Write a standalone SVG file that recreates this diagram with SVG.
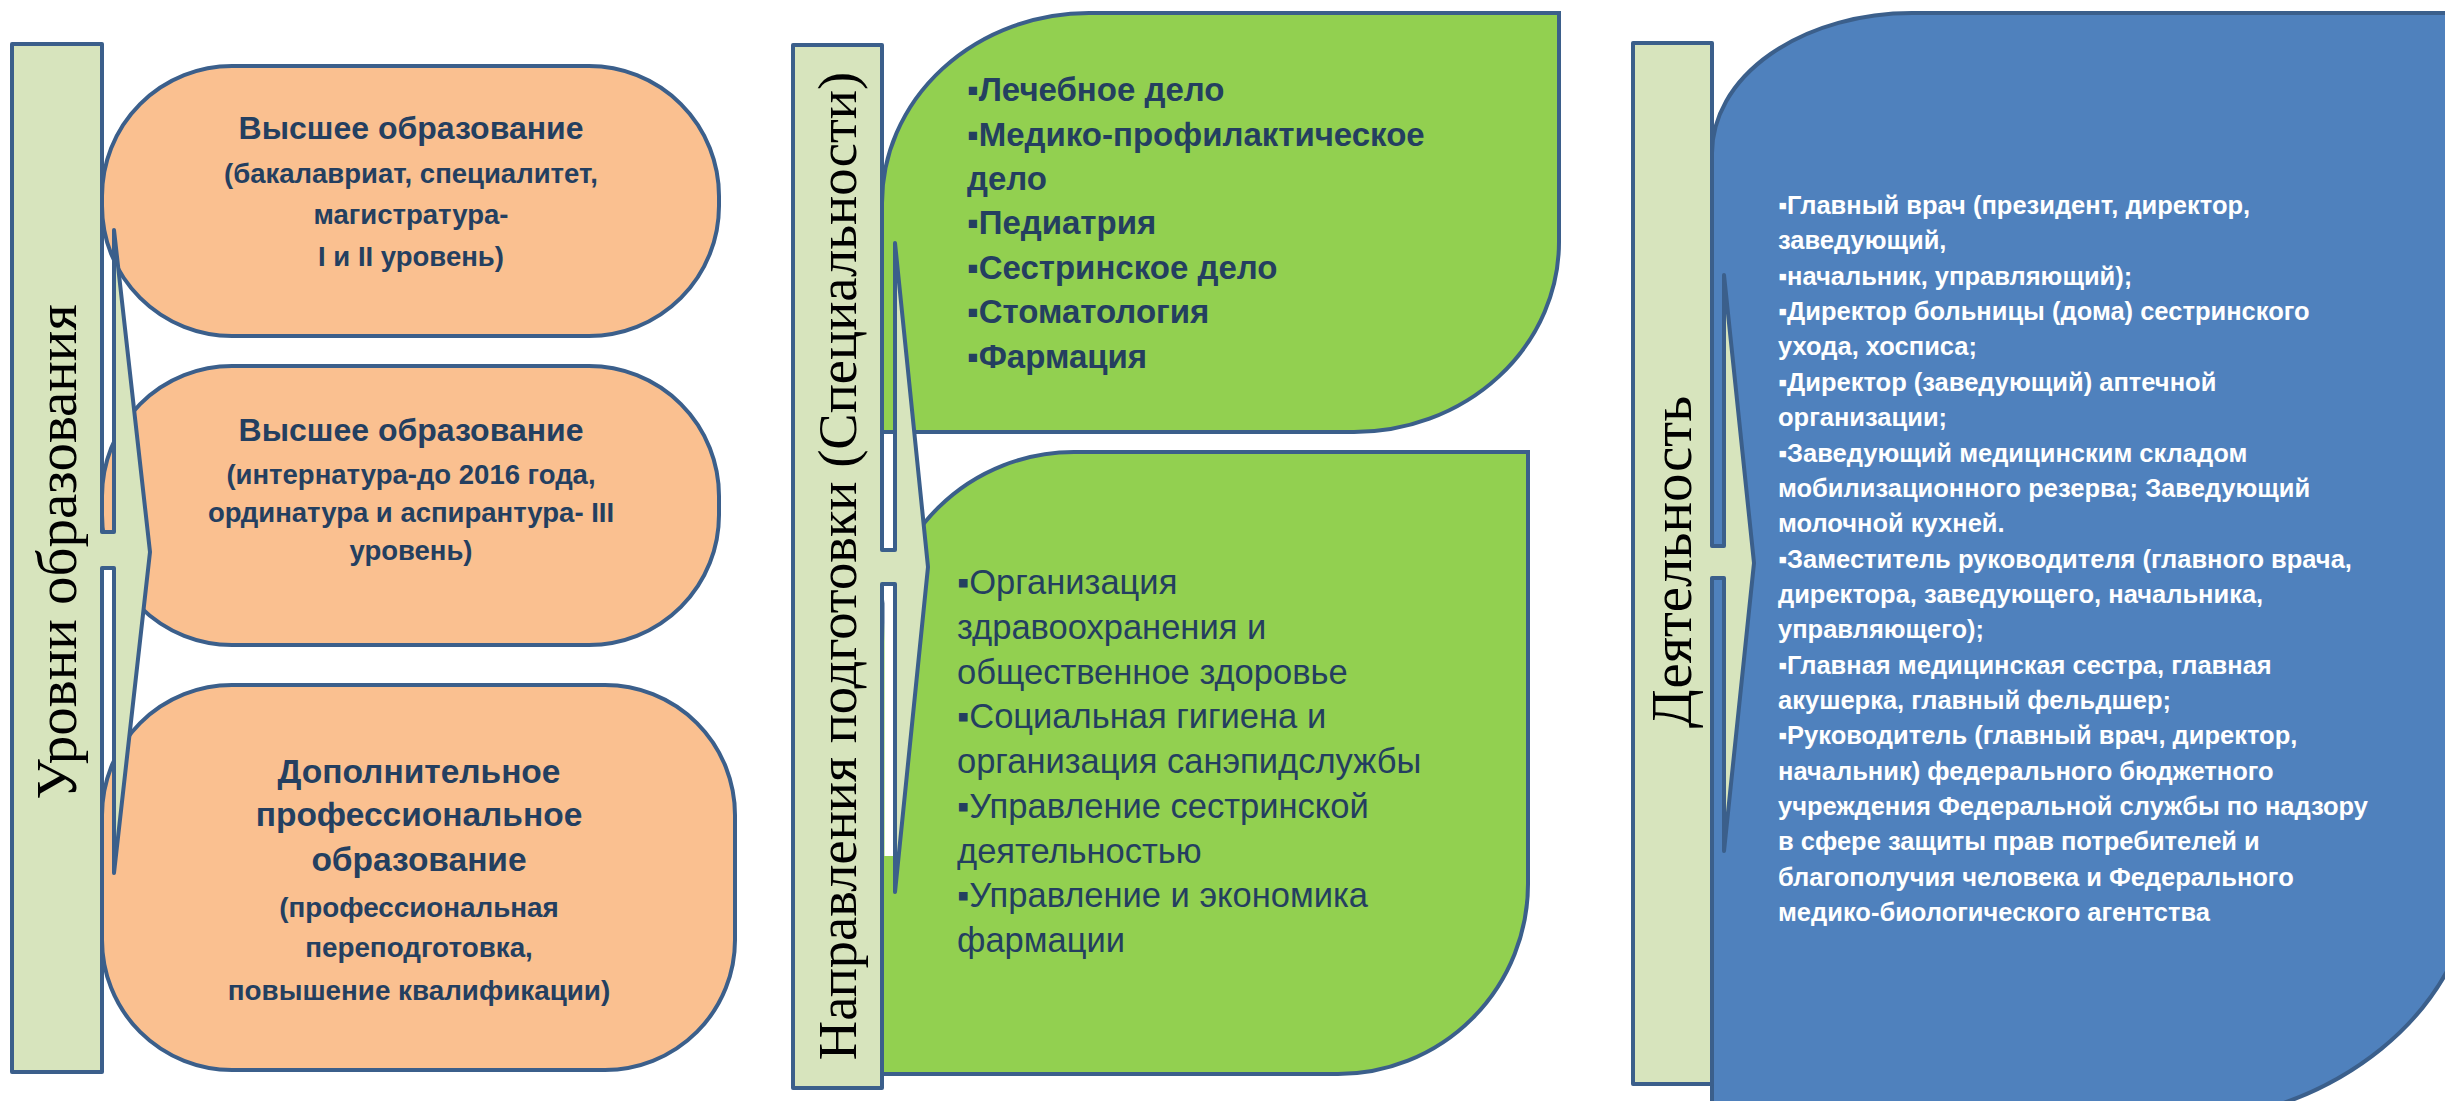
<svg xmlns="http://www.w3.org/2000/svg" width="2445" height="1101" viewBox="0 0 2445 1101">
<style>
.bar{fill:#d7e4bd;stroke:#3b5f8b;stroke-width:4;stroke-linejoin:round}
.box{fill:#fac090;stroke:#3b5f8b;stroke-width:4}
.grn{fill:#92d050;stroke:#3b5f8b;stroke-width:4}
.blu{fill:#4f81bd;stroke:#3b5f8b;stroke-width:4}
.wfill{fill:#d7e4bd;stroke:none}
.wline{fill:none;stroke:#3b5f8b;stroke-width:4;stroke-linejoin:round;stroke-linecap:round}
.vt{font-family:"Liberation Serif","Times New Roman",serif;fill:#000}
.t{font-family:"Liberation Sans",Arial,sans-serif;fill:#243f60}
.c{text-anchor:middle}
.b{font-weight:bold}
.w{fill:#ffffff}
</style>
<rect width="2445" height="1101" fill="#ffffff"/>

<g id="box1">
<rect class="box" x="102" y="66" width="617" height="270" rx="130" ry="130"/>
<text class="t b c" x="411" y="139" font-size="32">Высшее образование</text>
<text class="t b c" x="411" font-size="27.5"><tspan x="411" y="183">(бакалавриат, специалитет,</tspan><tspan x="411" y="224">магистратура-</tspan><tspan x="411" y="266">I и II уровень)</tspan></text>
</g>
<g id="box2">
<rect class="box" x="102" y="366" width="617" height="279" rx="130" ry="130"/>
<text class="t b c" x="411" y="441" font-size="32">Высшее образование</text>
<text class="t b c" x="411" font-size="27.5"><tspan x="411" y="484">(интернатура-до 2016 года,</tspan><tspan x="411" y="522">ординатура и аспирантура- III</tspan><tspan x="411" y="560">уровень)</tspan></text>
</g>
<g id="box3">
<rect class="box" x="102" y="685" width="633" height="385" rx="130" ry="130"/>
<text class="t b c" x="419" font-size="33.5"><tspan x="419" y="783">Дополнительное</tspan><tspan x="419" y="826">профессиональное</tspan><tspan x="419" y="871">образование</tspan></text>
<text class="t b c" x="419" font-size="27.8"><tspan x="419" y="917">(профессиональная</tspan><tspan x="419" y="957">переподготовка,</tspan><tspan x="419" y="1000">повышение квалификации)</tspan></text>
</g>
<g id="bar1">
<rect class="bar" x="12" y="44" width="90" height="1028"/>
<text class="vt c" font-size="57" transform="translate(76 552) rotate(-90)" x="0" y="0">Уровни образования</text>
</g>

<g id="spec1">
<path class="grn" d="M882,432 L882,203 A207,190 0 0 1 1089,13 L1559,13 L1559,242 A205,190 0 0 1 1354,432 Z"/>
<text class="t b" x="967" font-size="33"><tspan x="967" y="101">▪Лечебное дело</tspan><tspan x="967" y="146">▪Медико-профилактическое</tspan><tspan x="967" y="190">дело</tspan><tspan x="967" y="234">▪Педиатрия</tspan><tspan x="967" y="279">▪Сестринское дело</tspan><tspan x="967" y="323">▪Стоматология</tspan><tspan x="967" y="368">▪Фармация</tspan></text>
</g>
<g id="spec2">
<path class="grn" d="M882,1074 L882,642 A192,190 0 0 1 1074,452 L1528,452 L1528,884 A190,190 0 0 1 1338,1074 Z"/>
<text class="t" x="957" font-size="34.5"><tspan x="957" y="594">▪Организация</tspan><tspan x="957" y="639">здравоохранения и</tspan><tspan x="957" y="684">общественное здоровье</tspan><tspan x="957" y="728">▪Социальная гигиена и</tspan><tspan x="957" y="773">организация санэпидслужбы</tspan><tspan x="957" y="818">▪Управление сестринской</tspan><tspan x="957" y="863">деятельностью</tspan><tspan x="957" y="907">▪Управление и экономика</tspan><tspan x="957" y="952">фармации</tspan></text>
</g>
<g id="bar2">
<rect class="bar" x="793" y="45" width="89" height="1043"/>
<text class="vt c" font-size="54.5" transform="translate(856 566) rotate(-90)" x="0" y="0">Направления подготовки (Специальности)</text>
</g>

<g id="activity">
<path class="blu" d="M1712,1130 L1712,153 A200,140 0 0 1 1912,13 L2475,13 L2475,865 A320,260 0 0 1 2155,1125 L1712,1130 Z"/>
<text class="t b w" x="1778" font-size="25.5"><tspan x="1778" y="214">▪Главный врач (президент, директор,</tspan><tspan x="1778" y="249.4">заведующий,</tspan><tspan x="1778" y="284.7">▪начальник, управляющий);</tspan><tspan x="1778" y="320.1">▪Директор больницы (дома) сестринского</tspan><tspan x="1778" y="355.4">ухода, хосписа;</tspan><tspan x="1778" y="390.8">▪Директор (заведующий) аптечной</tspan><tspan x="1778" y="426.1">организации;</tspan><tspan x="1778" y="461.5">▪Заведующий медицинским складом</tspan><tspan x="1778" y="496.8">мобилизационного резерва; Заведующий</tspan><tspan x="1778" y="532.2">молочной кухней.</tspan><tspan x="1778" y="567.5">▪Заместитель руководителя (главного врача,</tspan><tspan x="1778" y="602.9">директора, заведующего, начальника,</tspan><tspan x="1778" y="638.2">управляющего);</tspan><tspan x="1778" y="673.6">▪Главная медицинская сестра, главная</tspan><tspan x="1778" y="708.9">акушерка, главный фельдшер;</tspan><tspan x="1778" y="744.3">▪Руководитель (главный врач, директор,</tspan><tspan x="1778" y="779.6">начальник) федерального бюджетного</tspan><tspan x="1778" y="815">учреждения Федеральной службы по надзору</tspan><tspan x="1778" y="850.3">в сфере защиты прав потребителей и</tspan><tspan x="1778" y="885.7">благополучия человека и Федерального</tspan><tspan x="1778" y="921">медико-биологического агентства</tspan></text>
</g>
<g id="bar3">
<rect class="bar" x="1633" y="43" width="79" height="1041"/>
<text class="vt c" font-size="57" transform="translate(1691 562) rotate(-90)" x="0" y="0">Деятельность</text>
</g>

<g id="connectors">
<path class="wfill" d="M114,230 L150,552 L114,873 L114,568 L98,568 L98,532 L114,532 Z"/>
<path class="wline" d="M102,532 L114,532 L114,230 L150,552 L114,873 L114,568 L102,568"/>
<rect x="884.5" y="586" width="8.5" height="270" fill="#ffffff"/>
<path class="wfill" d="M895,243 L928,567 L895,892 L895,584 L878,584 L878,550 L895,550 Z"/>
<path class="wline" d="M882,550 L895,550 L895,243 L928,567 L895,892 L895,584 L882,584"/>
<path class="wfill" d="M1724,275 L1754,563 L1724,851 L1724,578 L1708,578 L1708,546 L1724,546 Z"/>
<path class="wline" d="M1712,546 L1724,546 L1724,275 L1754,563 L1724,851 L1724,578 L1712,578"/>
</g>
</svg>
